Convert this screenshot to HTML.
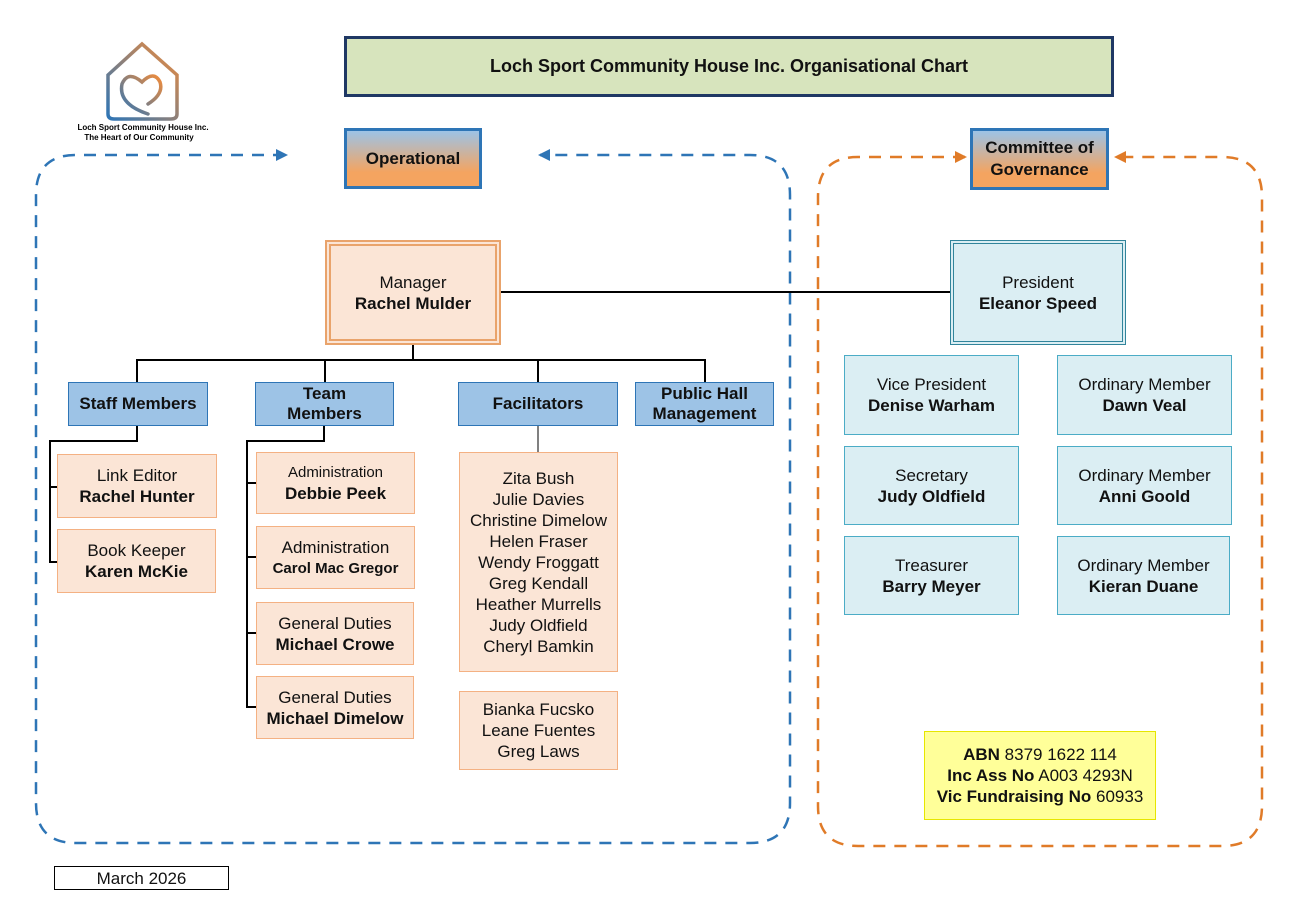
<!DOCTYPE html>
<html><head><meta charset="utf-8"><style>
body{margin:0;width:1304px;height:904px;background:#fff;position:relative;overflow:hidden;font-family:"Liberation Sans",Arial,sans-serif;color:#111}
.b{position:absolute;box-sizing:border-box;display:flex;flex-direction:column;align-items:center;justify-content:center;text-align:center;font-size:17px;line-height:21px}
.o{background:#fbe5d6;border:1px solid #f4b183}
.c{background:#dbeef3;border:1px solid #4bacc6}
.h{background:#9dc3e6;border:1px solid #2e75b6;font-weight:bold;line-height:20px}
.g{background:linear-gradient(#9dc3e6,#f4a460 75%,#f4a460);font-weight:bold;line-height:22px}
b{font-weight:bold}
</style></head><body>
<svg width="1304" height="904" style="position:absolute;left:0;top:0">
<defs>
<linearGradient id="lg" x1="0" y1="1" x2="1" y2="0"><stop offset="0" stop-color="#2e75b6"/><stop offset="1" stop-color="#f08c3c"/></linearGradient>
</defs>
<path d="M285,155 H76 Q36,155 36,195 V803 Q36,843 76,843 H750 Q790,843 790,803 V195 Q790,155 750,155 H540" fill="none" stroke="#2e75b6" stroke-width="2.5" stroke-dasharray="12,9"/>
<path d="M276,149 L288,155 L276,161z" fill="#2e75b6"/>
<path d="M550,149 L538,155 L550,161z" fill="#2e75b6"/>
<path d="M965,157 H858 Q818,157 818,197 V806 Q818,846 858,846 H1222 Q1262,846 1262,806 V197 Q1262,157 1222,157 H1115" fill="none" stroke="#e07b28" stroke-width="2.5" stroke-dasharray="12,9"/>
<path d="M955,151 L967,157 L955,163z" fill="#e07b28"/>
<path d="M1126,151 L1114,157 L1126,163z" fill="#e07b28"/>
<g stroke="#000" stroke-width="2" fill="none">
<line x1="500" y1="292" x2="950" y2="292"/>
<line x1="413" y1="344" x2="413" y2="360"/>
<path d="M137,382 V360 H705 V382"/>
<line x1="325" y1="360" x2="325" y2="382"/>
<line x1="538" y1="360" x2="538" y2="382"/>
<path d="M137,425 V441 H50 V562 H57"/>
<line x1="50" y1="487" x2="57" y2="487"/>
<path d="M324,425 V441 H247 V707 H256"/>
<line x1="247" y1="483" x2="256" y2="483"/>
<line x1="247" y1="557" x2="256" y2="557"/>
<line x1="247" y1="633" x2="256" y2="633"/>
</g>
<line x1="538" y1="425" x2="538" y2="452" stroke="#000" stroke-width="1"/>
<path d="M108,114 V75 L142,44 L177,75 V114 Q177,119 171,119 H114 Q108,119 108,114z" fill="none" stroke="url(#lg)" stroke-width="3.5"/>
<path d="M148,114 Q118,104 122,84 Q128,70 142,82 Q154,70 160,82 Q164,94 148,104" fill="none" stroke="url(#lg)" stroke-width="3.5" stroke-linecap="round"/>
<text x="143" y="130" font-size="8" font-weight="bold" text-anchor="middle" font-family="Liberation Sans">Loch Sport Community House Inc.</text>
<text x="139" y="140" font-size="8" font-weight="bold" text-anchor="middle" font-family="Liberation Sans">The Heart of Our Community</text>
</svg>

<div class="b" style="left:344px;top:36px;width:770px;height:61px;background:#d7e4bd;border:3px solid #1f3864;font-weight:bold;font-size:18px">Loch Sport Community House Inc. Organisational Chart</div>
<div class="b g" style="left:344px;top:128px;width:138px;height:61px;border:3px solid #2e75b6">Operational</div>
<div class="b g" style="left:970px;top:128px;width:139px;height:62px;border:3px solid #2e75b6">Committee of<br>Governance</div>

<div class="b o" style="left:325px;top:240px;width:176px;height:105px;border:6px double #e9a36b">Manager<br><b>Rachel Mulder</b></div>
<div class="b c" style="left:950px;top:240px;width:176px;height:105px;border:4px double #31849b">President<br><b>Eleanor Speed</b></div>

<div class="b h" style="left:68px;top:382px;width:140px;height:44px">Staff Members</div>
<div class="b h" style="left:255px;top:382px;width:139px;height:44px">Team<br>Members</div>
<div class="b h" style="left:458px;top:382px;width:160px;height:44px">Facilitators</div>
<div class="b h" style="left:635px;top:382px;width:139px;height:44px">Public Hall<br>Management</div>

<div class="b o" style="left:57px;top:454px;width:160px;height:64px">Link Editor<br><b>Rachel Hunter</b></div>
<div class="b o" style="left:57px;top:529px;width:159px;height:64px">Book Keeper<br><b>Karen McKie</b></div>

<div class="b o" style="left:256px;top:452px;width:159px;height:62px"><span style="font-size:15px">Administration</span><b>Debbie Peek</b></div>
<div class="b o" style="left:256px;top:526px;width:159px;height:63px">Administration<br><b style="font-size:15px">Carol Mac Gregor</b></div>
<div class="b o" style="left:256px;top:602px;width:158px;height:63px">General Duties<br><b>Michael Crowe</b></div>
<div class="b o" style="left:256px;top:676px;width:158px;height:63px">General Duties<br><b>Michael Dimelow</b></div>

<div class="b o" style="left:459px;top:452px;width:159px;height:220px">Zita Bush<br>Julie Davies<br>Christine Dimelow<br>Helen Fraser<br>Wendy Froggatt<br>Greg Kendall<br>Heather Murrells<br>Judy Oldfield<br>Cheryl Bamkin</div>
<div class="b o" style="left:459px;top:691px;width:159px;height:79px">Bianka Fucsko<br>Leane Fuentes<br>Greg Laws</div>

<div class="b c" style="left:844px;top:355px;width:175px;height:80px">Vice President<br><b>Denise Warham</b></div>
<div class="b c" style="left:1057px;top:355px;width:175px;height:80px">Ordinary Member<br><b>Dawn Veal</b></div>
<div class="b c" style="left:844px;top:446px;width:175px;height:79px">Secretary<br><b>Judy Oldfield</b></div>
<div class="b c" style="left:1057px;top:446px;width:175px;height:79px">Ordinary Member<br><b>Anni Goold</b></div>
<div class="b c" style="left:844px;top:536px;width:175px;height:79px">Treasurer<br><b>Barry Meyer</b></div>
<div class="b c" style="left:1057px;top:536px;width:173px;height:79px">Ordinary Member<br><b>Kieran Duane</b></div>

<div class="b" style="left:924px;top:731px;width:232px;height:89px;background:#ffff99;border:1px solid #e6e600"><div><b>ABN</b> 8379 1622 114</div><div><b>Inc Ass No</b> A003 4293N</div><div><b>Vic Fundraising No</b> 60933</div></div>

<div class="b" style="left:54px;top:866px;width:175px;height:24px;border:1px solid #000">March 2026</div>
</body></html>
